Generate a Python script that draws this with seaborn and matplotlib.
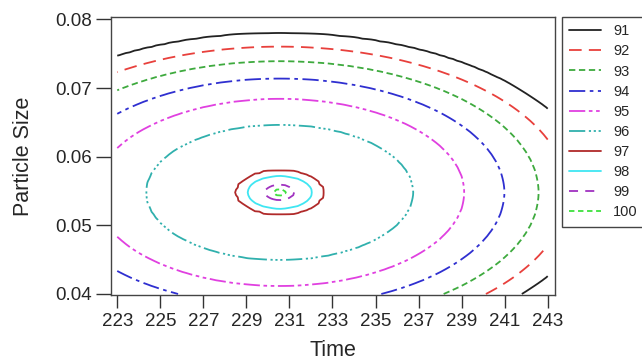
import numpy as np
import matplotlib
matplotlib.use('Agg')
import matplotlib.pyplot as plt
from matplotlib.lines import Line2D
import seaborn as sns

# contour levels and the half-width (in Time units) of each ellipse
levels = [91, 92, 93, 94, 95, 96, 97, 98, 99, 100]
level_halfwidth = [14.6, 13.36, 12.03, 10.44, 8.58, 6.22, 1.98, 1.51, 0.66, 0.3]
center_time = 230.55
center_size = 0.0548
size_per_time = 0.00159   # ellipse height / width ratio

time_range = [223, 243]
size_range = [0.04, 0.08]
time_ticks = [223, 225, 227, 229, 231, 233, 235, 237, 239, 241, 243]
size_ticks = [0.04, 0.05, 0.06, 0.07, 0.08]

colors = ['#222222', '#e8403c', '#3eaa3e', '#2f2fd0', '#e040e0',
          '#30b0ad', '#b02a2a', '#3fe6f2', '#a032c0', '#3ee03e']
dashes = ['solid', (0, (7, 4)), (0, (3.5, 2)), (0, (9, 2.5, 2, 2.5)),
          (0, (9, 2, 2, 2, 2, 2)), (0, (9, 2, 1.2, 1.5, 1.2, 1.5, 1.2, 2)),
          'solid', 'solid', (0, (5, 4)), (0, (3, 2))]

sns.set_style('ticks')
plt.rcParams['font.family'] = ['Liberation Sans', 'DejaVu Sans']

# response surface on a grid
t = np.linspace(time_range[0], time_range[1], 101)
p = np.linspace(size_range[0], size_range[1], 101)
T, P = np.meshgrid(t, p)
R = np.sqrt((T - center_time) ** 2 + ((P - center_size) / size_per_time) ** 2)
xp = [0] + level_halfwidth[::-1] + [20]
fp = [100.5] + levels[::-1] + [89]
Z = np.interp(R, xp, fp)

fig = plt.figure(figsize=(6.42, 3.61), dpi=100)
ax = fig.add_axes([0.1729, 0.1828, 0.6916, 0.7709])
ax.contour(T, P, Z, levels=levels, colors=colors, linestyles=dashes, linewidths=1.3)

ax.set_xlim(222.71, 243.34)
ax.set_ylim(0.03985, 0.0804)
ax.set_xticks(time_ticks)
ax.set_yticks(size_ticks)
ax.set_yticklabels(['%.2f' % v for v in size_ticks])
ax.tick_params(axis='x', length=9, width=1, pad=4, labelsize=13.5, color='#333333')
ax.tick_params(axis='y', length=11, width=1, pad=3, labelsize=13.5, color='#333333')
for s in ax.spines.values():
    s.set_color('#444444')
    s.set_linewidth(1)
ax.set_xlabel('Time', fontsize=15.5, labelpad=7.5)
ax.set_ylabel('Particle Size', fontsize=15.5, labelpad=15)

handles = [Line2D([], [], color=c, linestyle=d, linewidth=1.3) for c, d in zip(colors, dashes)]
fig.legend(handles, [str(v) for v in levels], loc='upper left',
           bbox_to_anchor=(0.8754, 0.953), bbox_transform=fig.transFigure,
           fontsize=10.5, frameon=True, fancybox=False, framealpha=1,
           edgecolor='#444444', handlelength=2.2, handletextpad=0.8,
           labelspacing=0.42, borderpad=0.5, borderaxespad=0)

fig.savefig('out.png', dpi=100)
